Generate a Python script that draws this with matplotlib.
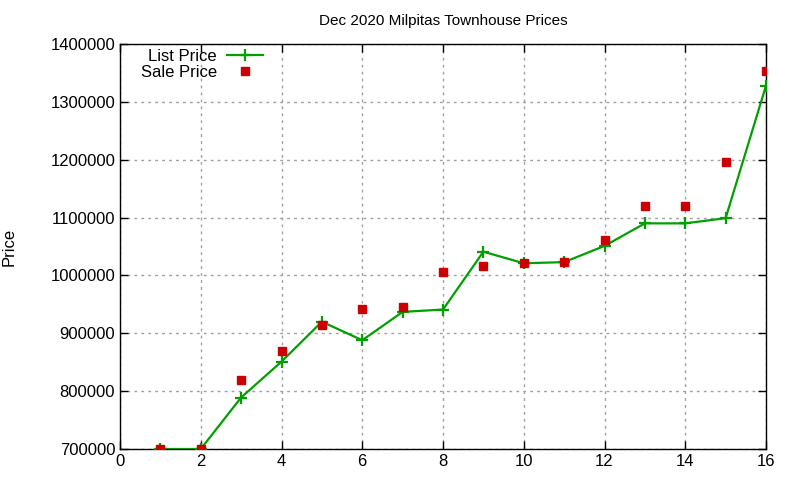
import matplotlib
matplotlib.use("Agg")
import matplotlib.pyplot as plt

plt.rcParams['font.family'] = ['Liberation Sans', 'DejaVu Sans']

homes = list(range(1, 17))
list_price = [700000, 700000, 789000, 851000, 920000, 888000, 937000, 941000,
              1041000, 1021000, 1023000, 1051000, 1090000, 1090000, 1099000, 1328000]
sale_price = [700000, 700000, 819000, 870000, 915000, 942000, 945000, 1006000,
              1016000, 1021000, 1023000, 1061000, 1120000, 1120000, 1196000, 1354000]

fig = plt.figure(figsize=(8, 4.8), dpi=100)
ax = fig.add_axes([0.15, 0.0646, 0.8075, 0.8437])

ax.plot(homes, list_price, color='#00a000', lw=1.6, marker='+', ms=9, mew=1.6,
        label='List Price', zorder=3)
ax.plot(homes, sale_price, ls='none', marker='s', ms=6, color='#cc0000',
        label='Sale Price', zorder=4)

ax.set_xlim(0, 16)
ax.set_ylim(700000, 1400000)
ax.set_xticks(range(0, 17, 2))
ax.set_yticks(range(700000, 1400001, 100000))
ax.ticklabel_format(style='plain', axis='y', useOffset=False)
ax.tick_params(direction='in', top=True, right=True, labelsize=12, length=6, width=1)
ax.grid(True, color='#a0a0a0', ls=(0, (2, 3)), lw=1)
for s in ax.spines.values():
    s.set_linewidth(1)

ax.set_title('Dec 2020 Milpitas Townhouse Prices', fontsize=11, pad=14)
ax.set_ylabel('Price', fontsize=12, labelpad=24)

leg = ax.legend(loc='upper left', markerfirst=False, frameon=False, fontsize=12,
                handlelength=2.2, handletextpad=0.6, borderaxespad=0.1,
                labelspacing=0.05, bbox_to_anchor=(0.019, 1.008))

fig.savefig('out.png', dpi=100)
